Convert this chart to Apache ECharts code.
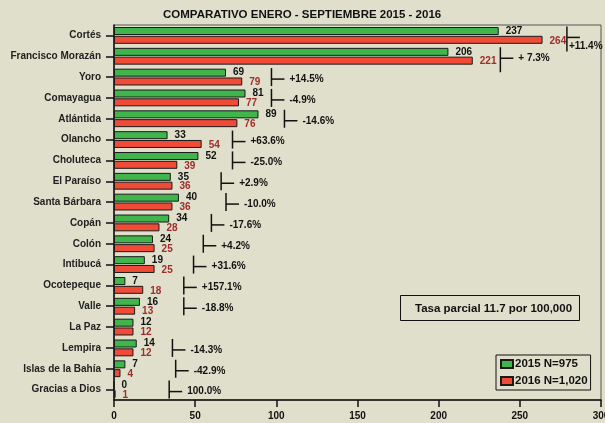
<!DOCTYPE html>
<html>
<head>
<meta charset="utf-8">
<script src="https://cdn.jsdelivr.net/npm/echarts@6/dist/echarts.min.js"></script>
<style>
  html, body { margin: 0; padding: 0; background: #dfdfcb; }
  #chart { width: 605px; height: 423px; }
</style>
</head>
<body>
<div id="chart"></div>
<script>
var departamentos = ['Cortés', 'Francisco Morazán', 'Yoro', 'Comayagua', 'Atlántida', 'Olancho',
  'Choluteca', 'El Paraíso', 'Santa Bárbara', 'Copán', 'Colón', 'Intibucá', 'Ocotepeque',
  'Valle', 'La Paz', 'Lempira', 'Islas de la Bahía', 'Gracias a Dios'];
var casos2015 = [237, 206, 69, 81, 89, 33, 52, 35, 40, 34, 24, 19, 7, 16, 12, 14, 7, 0];
var casos2016 = [264, 221, 79, 77, 76, 54, 39, 36, 36, 28, 25, 25, 18, 13, 12, 12, 4, 1];
var cambio = ['+11.4%', '+ 7.3%', '+14.5%', '-4.9%', '-14.6%', '+63.6%', '-25.0%', '+2.9%', '-10.0%',
  '-17.6%', '+4.2%', '+31.6%', '+157.1%', '-18.8%', '', '-14.3%', '-42.9%', '100.0%'];
// where the bracket sits, in axis units
var marcaEn = [279, 238, 97, 97, 105, 73, 73, 66, 69, 60, 55, 49, 43, 43, null, 36, 38, 34];
var xTicks = [0, 50, 100, 150, 200, 250, 300];

var FONT = '"Liberation Sans", Arial, sans-serif';

var marcas = [];
for (var i = 0; i < departamentos.length; i++) {
  if (marcaEn[i] != null) marcas.push([marcaEn[i], i, cambio[i]]);
}

var chart = echarts.init(document.getElementById('chart'));

chart.setOption({
  backgroundColor: '#dfdfcb',
  animation: false,
  title: {
    text: 'COMPARATIVO ENERO - SEPTIEMBRE 2015 - 2016',
    left: 158,
    top: 4,
    textStyle: { fontFamily: FONT, fontSize: 11.5, fontWeight: 'bold', color: '#111' }
  },
  legend: {
    orient: 'vertical',
    left: 496,
    top: 355,
    padding: [3, 3, 3, 4],
    itemGap: 5,
    itemWidth: 12,
    itemHeight: 8,
    borderColor: '#111',
    borderWidth: 1,
    icon: 'rect',
    textStyle: { fontFamily: FONT, fontSize: 11.5, fontWeight: 'bold', color: '#111', padding: [0, 0, 0, -3] },
    data: ['2015 N=975', '2016 N=1,020']
  },
  grid: {
    left: 114, right: 4, top: 25, bottom: 23,
    outerBoundsMode: 'none',
    containLabel: false,
    show: true, borderColor: '#555', borderWidth: 1
  },
  xAxis: {
    type: 'value',
    min: xTicks[0],
    max: xTicks[xTicks.length - 1],
    interval: 50,
    axisLine: { show: true, lineStyle: { color: '#111', width: 1.5 } },
    axisTick: { show: true, length: 7, lineStyle: { color: '#111', width: 1.5 } },
    splitLine: { show: false },
    axisLabel: { margin: 11, fontFamily: FONT, fontSize: 10, fontWeight: 'bold', color: '#111' }
  },
  yAxis: {
    type: 'category',
    inverse: true,
    data: departamentos,
    axisLine: { show: true, lineStyle: { color: '#111', width: 1.5 } },
    axisTick: { show: true, alignWithLabel: true, length: 8, lineStyle: { color: '#111', width: 1.5 } },
    axisLabel: { margin: 13, fontFamily: FONT, fontSize: 10, fontWeight: 'bold', color: '#222' }
  },
  graphic: [{
    type: 'group',
    left: 400,
    top: 295,
    children: [{
      type: 'rect',
      shape: { x: 0, y: 0, width: 179, height: 25 },
      style: { fill: 'transparent', stroke: '#111', lineWidth: 1 }
    }, {
      type: 'text',
      x: 93, y: 13,
      style: {
        text: 'Tasa parcial 11.7 por 100,000',
        font: 'bold 11.5px ' + FONT,
        fill: '#111', align: 'center', verticalAlign: 'middle'
      }
    }]
  }],
  series: [{
    name: '2015 N=975',
    type: 'bar',
    data: casos2015,
    barWidth: 8,
    barGap: '10%',
    itemStyle: { color: '#3fb54b', borderColor: '#1a1a1a', borderWidth: 1 },
    label: {
      show: true, position: 'right', distance: 7, offset: [0, 0],
      fontFamily: FONT, fontSize: 10, fontWeight: 'bold', color: '#111'
    }
  }, {
    name: '2016 N=1,020',
    type: 'bar',
    data: casos2016,
    barWidth: 8,
    itemStyle: { color: '#ef4b36', borderColor: '#1a1a1a', borderWidth: 1 },
    label: {
      show: true, position: 'right', distance: 7, offset: [0, 1],
      fontFamily: FONT, fontSize: 10, fontWeight: 'bold', color: '#a02c2c'
    }
  }, {
    type: 'custom',
    clip: false,
    silent: true,
    z: 5,
    encode: { x: 0, y: 1 },
    data: marcas,
    renderItem: function (params, api) {
      var p = api.coord([api.value(0), api.value(1)]);
      var idx = api.value(1);
      var txt = marcas[params.dataIndex][2];
      var top = p[1] - 9, bottom = p[1] + (idx < 2 ? 16 : 9);
      var tickY = p[1] + 2;
      // first one has no room on the right, so its text goes under the tick
      var under = p[0] + 60 > 600;
      return {
        type: 'group',
        children: [{
          type: 'line',
          shape: { x1: p[0], y1: top, x2: p[0], y2: bottom },
          style: { stroke: '#111', lineWidth: 1.5 }
        }, {
          type: 'line',
          shape: { x1: p[0], y1: tickY, x2: p[0] + 13, y2: tickY },
          style: { stroke: '#111', lineWidth: 1.5 }
        }, {
          type: 'text',
          x: under ? p[0] + 2 : p[0] + 18,
          y: under ? tickY + 9 : tickY,
          style: {
            text: txt,
            font: 'bold 10px ' + FONT,
            fill: '#111', verticalAlign: 'middle', align: 'left'
          }
        }]
      };
    }
  }]
});
</script>
</body>
</html>
